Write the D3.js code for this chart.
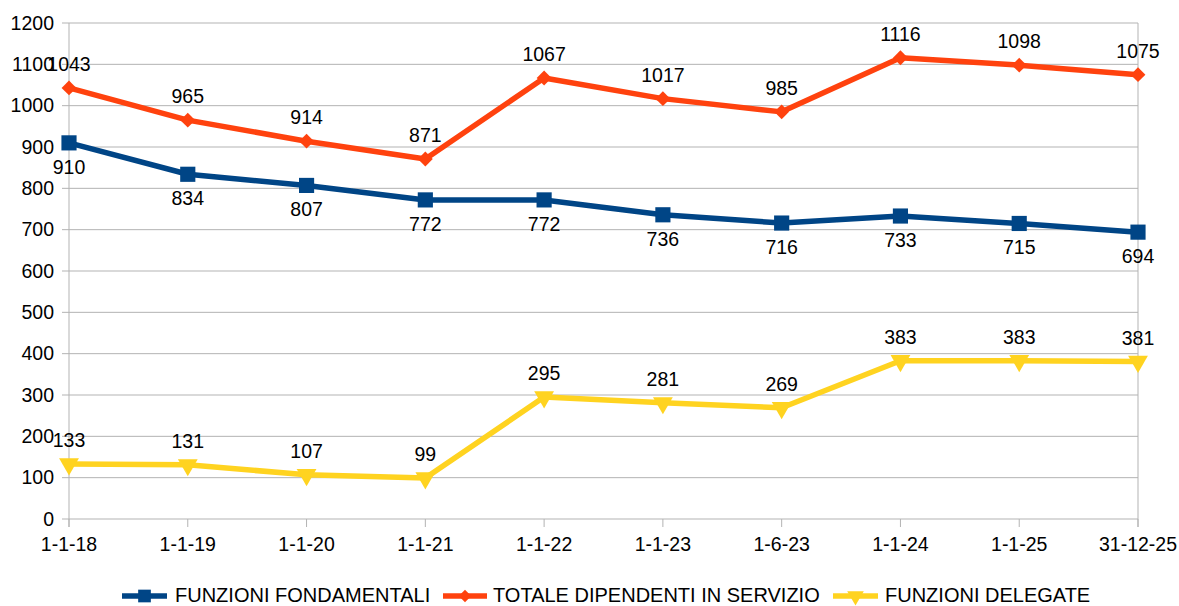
<!DOCTYPE html>
<html><head><meta charset="utf-8">
<script src="https://cdnjs.cloudflare.com/ajax/libs/d3/7.8.5/d3.min.js"></script>
<style>body{margin:0;background:#fff}svg{display:block;font-family:"Liberation Sans",Arial,sans-serif}</style>
</head><body><svg id="c" width="1179" height="606"></svg>
<script>
const categories = ["1-1-18","1-1-19","1-1-20","1-1-21","1-1-22","1-1-23","1-6-23","1-1-24","1-1-25","31-12-25"];
const fondamentali = [910,834,807,772,772,736,716,733,715,694];
const totale = [1043,965,914,871,1067,1017,985,1116,1098,1075];
const delegate = [133,131,107,99,295,281,269,383,383,381];
const yTicks = [0,100,200,300,400,500,600,700,800,900,1000,1100,1200];

const FS = 19.5;
const svg = d3.select("#c");
const L=69,R=1138,T=23,B=519;
const x = d3.scalePoint().domain(categories).range([L,R]).padding(0);
const y = d3.scaleLinear().domain([0,1200]).range([B,T]);

// grid
svg.append("g").selectAll("line").data(yTicks).join("line")
 .attr("x1",L-7).attr("x2",R).attr("y1",d=>y(d)).attr("y2",d=>y(d))
 .attr("stroke","#b3b3b3").attr("stroke-width",1);
svg.append("line").attr("x1",L).attr("x2",L).attr("y1",T).attr("y2",B+8).attr("stroke","#b3b3b3");
svg.append("line").attr("x1",R).attr("x2",R).attr("y1",T).attr("y2",B+8).attr("stroke","#b3b3b3");
svg.append("g").selectAll("line").data(categories).join("line")
 .attr("x1",d=>x(d)).attr("x2",d=>x(d)).attr("y1",B).attr("y2",B+8).attr("stroke","#b3b3b3");

// axis labels
svg.append("g").selectAll("text").data(yTicks).join("text")
 .attr("x",54).attr("y",d=>y(d)+6.5).attr("text-anchor","end").attr("font-size",FS).attr("fill","#000").text(d=>d);
svg.append("g").selectAll("text").data(categories).join("text")
 .attr("x",d=>x(d)).attr("y",551).attr("text-anchor","middle").attr("font-size",FS).attr("fill","#000").text(d=>d);

const series = [
 {name:"FUNZIONI FONDAMENTALI",vals:fondamentali,color:"#004586",sym:d3.symbolSquare,size:230,rot:0,dy:31},
 {name:"TOTALE DIPENDENTI IN SERVIZIO",vals:totale,color:"#ff420e",sym:d3.symbolDiamond2,size:140,rot:0,dy:-17},
 {name:"FUNZIONI DELEGATE",vals:delegate,color:"#ffd320",sym:d3.symbolTriangle,size:170,rot:180,dy:-17}
];
const line = d3.line().x((d,i)=>x(categories[i])).y(d=>y(d));
series.forEach(s=>{
 const g=svg.append("g");
 g.append("path").attr("d",line(s.vals)).attr("fill","none").attr("stroke",s.color).attr("stroke-width",5.5).attr("stroke-linejoin","round");
 g.selectAll("path.m").data(s.vals).join("path").attr("class","m")
  .attr("d",d3.symbol().type(s.sym).size(s.size))
  .attr("transform",(d,i)=>`translate(${x(categories[i])},${y(d)}) rotate(${s.rot})`)
  .attr("fill",s.color);
 g.selectAll("text").data(s.vals).join("text")
  .attr("x",(d,i)=>x(categories[i])).attr("y",d=>y(d)+s.dy)
  .attr("text-anchor","middle").attr("font-size",FS).attr("fill","#000").text(d=>d);
});

// legend
const leg=[{x1:122,x2:167,tx:175},{x1:443,x2:487,tx:493},{x1:833,x2:878,tx:885}];
series.forEach((s,i)=>{
 const l=leg[i], ly=596;
 svg.append("line").attr("x1",l.x1).attr("x2",l.x2).attr("y1",ly).attr("y2",ly).attr("stroke",s.color).attr("stroke-width",5.5);
 svg.append("path").attr("d",d3.symbol().type(s.sym).size(s.size*0.7)()).attr("transform",`translate(${(l.x1+l.x2)/2},${ly}) rotate(${s.rot})`).attr("fill",s.color);
 svg.append("text").attr("x",l.tx).attr("y",ly+6).attr("font-size",FS+0.5).attr("fill","#000").text(s.name);
});
</script></body></html>
